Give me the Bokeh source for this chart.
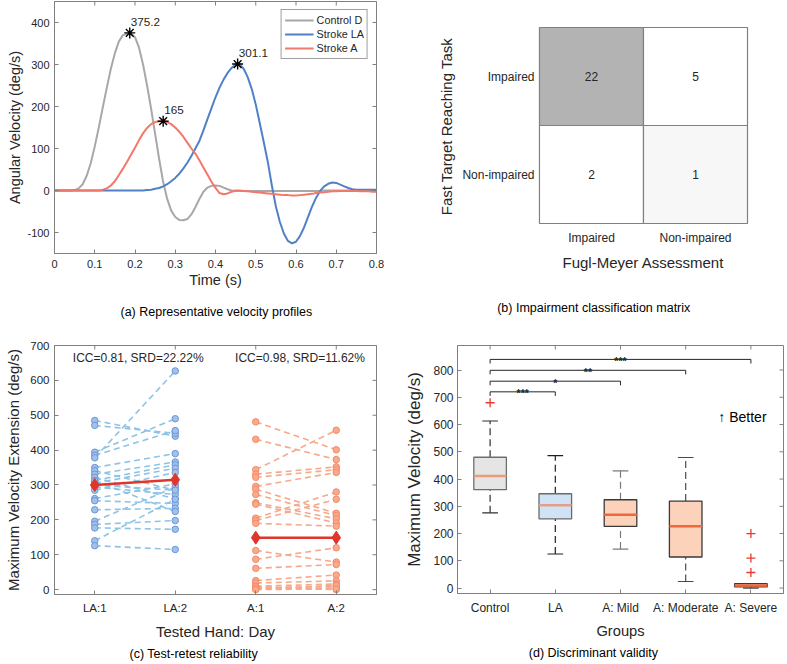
import math
from bokeh.plotting import figure
from bokeh.models import FixedTicker, Title
from bokeh.layouts import column, row
from bokeh.embed import file_html
from bokeh.resources import INLINE
from bokeh.core.properties import value

SANS = "Liberation Sans"
TXT = "#262626"
AXC = "#808080"

# ---------------- (a) Representative velocity profiles ----------------
time_s = [0.00, 0.01, 0.02, 0.03, 0.04, 0.05, 0.06, 0.07, 0.08, 0.09,
          0.10, 0.11, 0.12, 0.13, 0.14, 0.15, 0.16, 0.17, 0.18, 0.19,
          0.20, 0.21, 0.22, 0.23, 0.24, 0.25, 0.26, 0.27, 0.28, 0.29,
          0.30, 0.31, 0.32, 0.33, 0.34, 0.35, 0.36, 0.37, 0.38, 0.39,
          0.40, 0.41, 0.42, 0.43, 0.44, 0.45, 0.46, 0.47, 0.48, 0.49,
          0.50, 0.51, 0.52, 0.53, 0.54, 0.55, 0.56, 0.57, 0.58, 0.59,
          0.60, 0.61, 0.62, 0.63, 0.64, 0.65, 0.66, 0.67, 0.68, 0.69,
          0.70, 0.71, 0.72, 0.73, 0.74, 0.75, 0.76, 0.77, 0.78, 0.79,
          0.80]
control_d = [0, 0, 0, 0, 0, 1, 5, 15, 35, 65,
             105, 150, 198, 245, 290, 327, 355, 370, 373, 374,
             365, 340, 300, 250, 195, 135, 75, 20, -20, -48,
             -63, -70, -71, -68, -57, -40, -20, -3, 7, 11,
             12, 11, 7, 3, 0, -1, -1, -1, -1, -1,
             -1, -1, -1, -1, -1, -1, -1, -1, -1, -1,
             -1, -1, -1, -1, -1, -1, -1, 0, 0, 0,
             0, 0, 0, 0, 0, 0, 0, 0, 0, 0,
             0]
stroke_la = [0, 0, 0, 0, 0, 0, 0, 0, 0, 0,
             0, 0, 0, 0, 0, 0, 0, 0, 0, 0,
             0, 0, 0, 1, 2, 4, 6, 10, 15, 22,
             30, 40, 52, 66, 82, 100, 118, 143, 170, 196,
             222, 245, 264, 280, 292, 299, 300, 290, 270, 242,
             205, 160, 115, 68, 12, -38, -75, -103, -120, -126,
             -122, -108, -88, -63, -38, -17, -1, 10, 16, 19,
             18, 14, 10, 6, 3, 2, 2, 2, 2, 2,
             2]
stroke_a = [0, 0, 0, 0, 0, 0, 0, 0, 0, 0,
            0, 0, 2, 5, 12, 22, 37, 52, 68, 85,
            102, 120, 136, 149, 158, 163, 165, 165, 163, 158,
            150, 140, 128, 114, 100, 88, 72, 55, 38, 21,
            6, -6, -9, -7, -3, 0, 0, -1, -2, -3,
            -4, -5, -6, -7, -8, -9, -10, -11, -11, -12,
            -12, -11, -10, -9, -8, -6, -5, -4, -3, -2,
            -2, -1, -1, -1, -1, -1, -2, -2, -2, -3,
            -3]
series_names = ["Control D", "Stroke LA", "Stroke A"]
peak_time = [0.187, 0.455, 0.270]
peak_vel = [375.2, 301.1, 165]
a_xticks = [0, 0.1, 0.2, 0.3, 0.4, 0.5, 0.6, 0.7, 0.8]
a_yticks = [-100, 0, 100, 200, 300, 400]

# ---------------- (b) Impairment classification matrix ----------------
fma_labels = ["Impaired", "Non-impaired"]     # columns (Fugl-Meyer)
ftrt_labels = ["Impaired", "Non-impaired"]    # rows, top to bottom (Fast Target Reaching Task)
counts = [[22, 5],
          [2, 1]]
cell_colors = [["#b3b3b3", "#ffffff"],
               ["#ffffff", "#f7f7f7"]]

# ---------------- (c) Test-retest reliability ----------------
hand_days = ["LA:1", "LA:2", "A:1", "A:2"]
la_day1 = [485, 471, 394, 385, 378, 350, 341, 331, 322, 313, 305, 294,
           285, 261, 255, 229, 196, 187, 177, 140, 126, 312, 300]
la_day2 = [440, 448, 490, 456, 627, 390, 285, 366, 260, 358, 348, 273,
           336, 303, 247, 233, 294, 198, 173, 259, 115, 224, 285]
a_day1 = [481, 431, 344, 331, 322, 296, 288, 273, 249, 245, 205, 198,
          190, 112, 87, 61, 26, 19, 10, 6, 3, 8, 2, 0]
a_day2 = [401, 373, 457, 352, 344, 336, 219, 212, 203, 191, 280, 259,
          182, 79, 120, 72, 42, 25, 16, 9, 5, 0, 12, 2]
la_mean = [300, 315]
a_mean = [149, 149]
icc = [0.81, 0.98]
srd = [22.22, 11.62]
c_yticks = [0, 100, 200, 300, 400, 500, 600, 700]

# ---------------- (d) Discriminant validity ----------------
groups = ["Control", "LA", "A: Mild", "A: Moderate", "A: Severe"]
q1 = [361, 254, 226, 114, 4]
med = [411, 304, 269, 227, 9]
q3 = [480, 346, 324, 319, 16]
wlo = [276, 125, 143, 24, 0]
whi = [613, 486, 430, 479, 16]
outlier_group = ["Control", "A: Severe", "A: Severe", "A: Severe"]
outlier_val = [680, 200, 110, 57]
sig_pairs = [("Control", "LA"), ("Control", "A: Mild"),
             ("Control", "A: Moderate"), ("Control", "A: Severe")]
sig_y = [720, 759, 799, 839]
sig_text = ["***", "*", "**", "***"]
d_yticks = [0, 100, 200, 300, 400, 500, 600, 700, 800]


def base(w, h, xr, yr, ml, mr, mt, mb, outline=AXC):
    p = figure(width=w, height=h, x_range=xr, y_range=yr,
               min_border_left=ml, min_border_right=mr,
               min_border_top=mt, min_border_bottom=mb,
               output_backend="svg", toolbar_location=None,
               background_fill_color="white", border_fill_color="white",
               outline_line_color=outline, outline_line_width=1)
    p.grid.visible = False
    return p


def style(ax, label, tick_fs, lab_fs, std, lab_std, tick_in=4):
    ax.axis_label = label
    ax.axis_label_text_font = SANS
    ax.axis_label_text_font_size = lab_fs
    ax.axis_label_text_font_style = "normal"
    ax.axis_label_text_color = TXT
    ax.axis_label_standoff = lab_std
    ax.major_label_text_font = SANS
    ax.major_label_text_font_size = tick_fs
    ax.major_label_text_color = TXT
    ax.major_label_standoff = std
    ax.major_tick_in = tick_in
    ax.major_tick_out = 0
    ax.major_tick_line_color = AXC
    ax.minor_tick_line_color = None
    ax.axis_line_color = AXC


def box_ticks(p, xticks, yticks):
    # inward ticks on the top and right edges (outer half clipped by the frame)
    top = p.y_range.end
    right = p.x_range.end
    p.scatter(xticks, [top] * len(xticks), marker="dash", angle=math.pi / 2,
              size=8, line_color=AXC, line_width=1)
    p.scatter([right] * len(yticks), yticks, marker="dash", size=8,
              line_color=AXC, line_width=1)


def under(p, text, offset, standoff, size="12.5px", color="black"):
    p.add_layout(Title(text=text, align="left", offset=offset,
                       vertical_align="bottom", standoff=standoff,
                       text_font=SANS, text_font_size=size,
                       text_font_style="normal", text_color=color), "below")


# ================= panel (a) =================
pa = base(400, 330, (0, 0.8), (-150, 450), 54, 24, 1, 75)
pa.below[0].ticker = FixedTicker(ticks=a_xticks)
pa.left[0].ticker = FixedTicker(ticks=a_yticks)
pa.left[0].major_label_overrides = {t: str(t) for t in a_yticks if t < 0}
style(pa.below[0], "Time (s)", "11px", "14.5px", 6, 1)
style(pa.left[0], "Angular Velocity (deg/s)", "11px", "14.5px", 5, 1)
a_colors = ["#a8a8a8", "#5280c6", "#f2786b"]
for vals, name, col in zip([control_d, stroke_la, stroke_a], series_names, a_colors):
    pa.line(time_s, vals, line_color=col, line_width=2, legend_label=name)
pa.scatter(peak_time, peak_vel, marker="asterisk", size=11,
           line_color="black", line_width=1.4)
pa.text(peak_time, peak_vel, text=[f"{v:g}" for v in peak_vel],
        x_offset=1, y_offset=-11, text_align="left", text_baseline="middle",
        text_font=value(SANS), text_font_size="11.7px", text_color=TXT)
box_ticks(pa, a_xticks, a_yticks)
lg = pa.legend[0]
lg.location = "top_right"
lg.margin = 8
lg.padding = 3
lg.spacing = 0
lg.label_height = 14
lg.glyph_height = 14
lg.glyph_width = 29
lg.label_standoff = 3
lg.label_text_font = SANS
lg.label_text_font_size = "10.8px"
lg.label_text_color = TXT
lg.border_line_color = "#404040"
lg.border_line_width = 1
lg.background_fill_alpha = 1
under(pa, "(a) Representative velocity profiles", 66, 24)

# ================= panel (b) =================
# frame spans the same width as panel (d); the matrix occupies its middle part
pb = base(385, 342, (-0.788, 2.346), (-0.2857, 2.2653), 57, 2, 1, 91, outline=None)
pb.xaxis.visible = False
yb = pb.left[0]
yb.ticker = FixedTicker(ticks=[])
style(yb, "Fast Target Reaching Task", "12px", "15px", 0, 3, tick_in=0)
yb.axis_line_color = None
nrows = len(ftrt_labels)
bx, by, bc, bt = [], [], [], []
for i, rlab in enumerate(ftrt_labels):
    for j, clab in enumerate(fma_labels):
        bx.append(j + 0.5)
        by.append(nrows - i - 0.5)
        bc.append(cell_colors[i][j])
        bt.append(str(counts[i][j]))
pb.rect(x=bx, y=by, width=1, height=1, fill_color=bc, line_color=AXC,
        line_width=1.2)
pb.text(x=bx, y=by, text=bt, text_align="center", text_baseline="middle",
        text_font=value(SANS), text_font_size="12px", text_color=TXT)
pb.text(x=[-0.048] * nrows, y=[nrows - i - 0.5 for i in range(nrows)],
        text=ftrt_labels, text_align="right", text_baseline="middle",
        text_font=value(SANS), text_font_size="12px", text_color=TXT)
pb.text(x=[j + 0.5 for j in range(len(fma_labels))], y=[-0.146] * len(fma_labels),
        text=fma_labels, text_align="center", text_baseline="middle",
        text_font=value(SANS), text_font_size="12px", text_color=TXT)
under(pb, "Fugl-Meyer Assessment", 105, 0, size="15px", color=TXT)
under(pb, "(b) Impairment classification matrix", 39.7, 56)

# ================= panel (c) =================
pc = base(400, 332, (0.5, 4.5), (-14, 700), 54, 24, 15, 62)
xpos = {h: i + 1 for i, h in enumerate(hand_days)}
pc.below[0].ticker = FixedTicker(ticks=list(xpos.values()))
pc.below[0].major_label_overrides = {v: k for k, v in xpos.items()}
pc.left[0].ticker = FixedTicker(ticks=c_yticks)
style(pc.below[0], "Tested Hand: Day", "11.5px", "15px", 7, 6)
style(pc.left[0], "Maximum Velocity Extension (deg/s)", "11.5px", "15px", 5, 5)

LA_LINE, LA_FILL, LA_EDGE = "#8ec3e6", "#a2c1ea", "#6b97d6"
A_LINE, A_FILL, A_EDGE = "#f6a98a", "#f9a98c", "#f28b6a"
RED = "#e0352b"

n = len(la_day1)
pc.segment(x0=[xpos["LA:1"]] * n, y0=la_day1, x1=[xpos["LA:2"]] * n, y1=la_day2,
           line_color=LA_LINE, line_width=1.6, line_dash="6 4")
pc.scatter([xpos["LA:1"]] * n + [xpos["LA:2"]] * n, la_day1 + la_day2,
           size=6.5, fill_color=LA_FILL, line_color=LA_EDGE, line_width=1)
m = len(a_day1)
pc.segment(x0=[xpos["A:1"]] * m, y0=a_day1, x1=[xpos["A:2"]] * m, y1=a_day2,
           line_color=A_LINE, line_width=1.6, line_dash="6 4")
pc.scatter([xpos["A:1"]] * m + [xpos["A:2"]] * m, a_day1 + a_day2,
           size=6.5, fill_color=A_FILL, line_color=A_EDGE, line_width=1)
for xs, ys in (([xpos["LA:1"], xpos["LA:2"]], la_mean),
               ([xpos["A:1"], xpos["A:2"]], a_mean)):
    pc.line(xs, ys, line_color=RED, line_width=2.5)
    pc.scatter(xs, ys, marker="diamond", size=13, fill_color=RED,
               line_color=RED)
pc.text(x=[1.54, 3.55], y=[664, 664],
        text=[f"ICC={i:.2f}, SRD={s:.2f}%" for i, s in zip(icc, srd)],
        text_align="center", text_baseline="middle",
        text_font=value(SANS), text_font_size="12px", text_color=TXT)
box_ticks(pc, list(xpos.values()), c_yticks)
under(pc, "(c) Test-retest reliability", 75, 4)

# ================= panel (d) =================
pd = base(385, 320, (0.5, 5.5), (-20, 890), 57, 2, 3, 62)
gpos = {g: i + 1 for i, g in enumerate(groups)}
gx = [gpos[g] for g in groups]
pd.below[0].ticker = FixedTicker(ticks=gx)
pd.below[0].major_label_overrides = {v: k for k, v in gpos.items()}
pd.left[0].ticker = FixedTicker(ticks=d_yticks)
style(pd.below[0], "Groups", "12px", "14.7px", 7, 5)
style(pd.left[0], "Maximum Velocity (deg/s)", "12px", "17px", 4, 6)

bw = 0.25
cw = 0.12
box_fill = ["#e5e5e5", "#cfe3f4", "#fdd2bb", "#fdd2bb", "#fdd2bb"]
box_edge = ["#6e6e6e", "#6a6a6a", "#3a3a3a", "#3a3a3a", "#3a3a3a"]
med_col = ["#eb9c7d", "#e59d8c", "#f2673a", "#f2673a", "#f2673a"]
wh_col = ["#2e2e2e", "#1f1f1f", "#7a7a7a", "#4a4a4a", "#4a4a4a"]
pd.segment(x0=gx, y0=q3, x1=gx, y1=whi, line_color=wh_col, line_width=1.2,
           line_dash="7 4")
pd.segment(x0=gx, y0=wlo, x1=gx, y1=q1, line_color=wh_col, line_width=1.2,
           line_dash="7 4")
pd.segment(x0=[x - cw for x in gx], y0=whi, x1=[x + cw for x in gx], y1=whi,
           line_color=wh_col, line_width=1.2)
pd.segment(x0=[x - cw for x in gx], y0=wlo, x1=[x + cw for x in gx], y1=wlo,
           line_color=wh_col, line_width=1.2)
pd.quad(left=[x - bw for x in gx], right=[x + bw for x in gx], bottom=q1, top=q3,
        fill_color=box_fill, line_color=box_edge, line_width=1.3)
pd.segment(x0=[x - bw for x in gx], y0=med, x1=[x + bw for x in gx], y1=med,
           line_color=med_col, line_width=2.5)
pd.scatter([gpos[g] for g in outlier_group], outlier_val, marker="cross",
           size=9, line_color="#e8392c", line_width=1.3)
bxs, bys = [], []
for (g1, g2), yv in zip(sig_pairs, sig_y):
    bxs.append([gpos[g1], gpos[g1], gpos[g2], gpos[g2]])
    bys.append([yv - 15, yv, yv, yv - 15])
pd.multi_line(bxs, bys, line_color="#262626", line_width=1)
pd.text(x=[(gpos[a] + gpos[b]) / 2 for a, b in sig_pairs], y=[yv - 6 for yv in sig_y],
        text=sig_text, text_align="center", text_baseline="alphabetic",
        text_font=value(SANS), text_font_size="10.5px", text_font_style="bold",
        text_color=TXT)
pd.text(x=[4.87], y=[628], text=["\u2191 Better"], text_align="center",
        text_baseline="middle", text_font=value(SANS), text_font_size="14px",
        text_color="black")
box_ticks(pd, gx, d_yticks)
under(pd, "(d) Discriminant validity", 71.3, 5)

layout = row(column(pa, pc), column(pb, pd))
open("out.html", "w").write(file_html(layout, INLINE))
